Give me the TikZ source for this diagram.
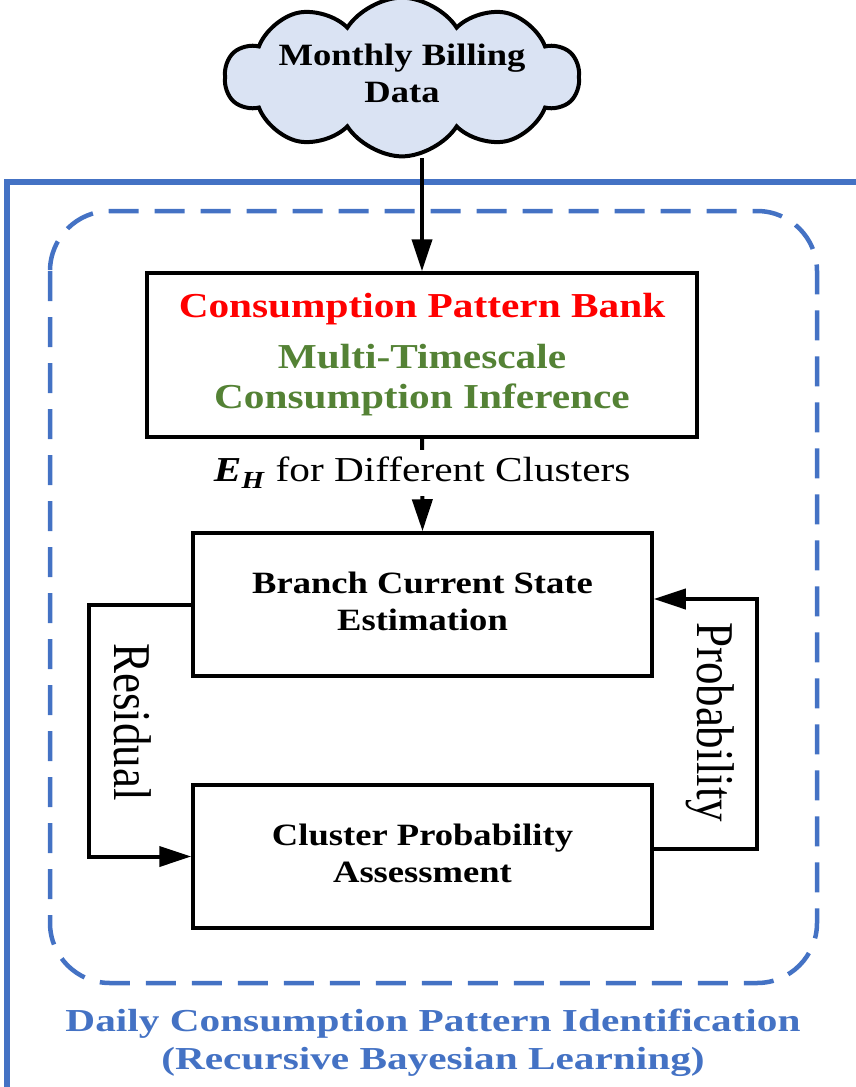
\documentclass[tikz,border=0pt]{standalone}
\usepackage{fontspec}
\setmainfont{Liberation Serif}
\usetikzlibrary{shapes.symbols,arrows.meta}

\definecolor{frameblue}{HTML}{4472C4}
\definecolor{cloudfill}{HTML}{DAE3F3}
\definecolor{bankred}{HTML}{FF0000}
\definecolor{infgreen}{HTML}{548235}

% horizontally widened text block, and its counterpart for turned labels
\newcommand{\widetext}[2][1.18]{\scalebox{#1}[1]{\begin{tabular}{@{}c@{}}#2\end{tabular}}}
\newcommand{\talltext}[1]{\scalebox{1}[1.18]{#1}}

\begin{document}
\begin{tikzpicture}[x=1pt,y=-1pt,
  block/.style={draw=black, line width=3.5pt, inner sep=0pt, fill=white},
  link/.style={line width=4pt, -{Triangle[length=32pt,width=20pt]}},
  sidelabel/.style={rotate=-90, inner sep=0pt, font=\fontsize{45}{50}\selectfont},
]
\path[use as bounding box] (0,0) rectangle (856,1087);
\clip (0,0) rectangle (856,1087);

% outer solid frame (runs past the right and bottom edges)
\draw[frameblue, line width=6pt] (7,1120) -- (7,182) -- (880,182);

% dashed rounded region
\draw[frameblue, line width=4.5pt, dash pattern=on 30pt off 16pt,
      rounded corners=60pt] (50,211) rectangle (817,983);

% data source
\node[cloud, cloud puffs=10, cloud puff arc=115, cloud ignores aspect,
      draw=black, line width=4pt, fill=cloudfill,
      minimum width=354pt, minimum height=148pt, inner sep=0pt,
      font=\fontsize{31}{37}\selectfont\bfseries] (cloud) at (402,77)
  {\widetext{Monthly Billing\\Data}};

% processing blocks
\node[block, minimum width=550pt, minimum height=164pt,
      font=\fontsize{35}{40.5}\selectfont\bfseries] (bank) at (422,355)
  {\widetext{\textcolor{bankred}{Consumption Pattern Bank}\\[10pt]
   \textcolor{infgreen}{Multi-Timescale}\\
   \textcolor{infgreen}{Consumption Inference}}};

\node[block, minimum width=459pt, minimum height=143pt,
      font=\fontsize{31}{36.5}\selectfont\bfseries] (branch) at (422.5,604.5)
  {\widetext{Branch Current State\\Estimation}};

\node[block, minimum width=459pt, minimum height=143pt,
      font=\fontsize{31}{36.5}\selectfont\bfseries] (cluster) at (422.5,856.5)
  {\widetext{Cluster Probability\\Assessment}};

% connectors
\draw[link] (cloud.south -| bank.north) -- (bank.north);

\draw[link] (bank.south) -- node[pos=0.375, fill=white, inner xsep=2pt, inner ysep=3pt,
      font=\fontsize{35}{40}\selectfont] (ehlabel)
  {\widetext{\textbf{\textit{E}}\textsubscript{\textbf{\textit{H}}} for Different Clusters}}
  (branch.north);

\draw[link] (branch.west) -- ++(-102,0) |- (cluster.west);
\draw[link] ([yshift=7.5pt]cluster.east) -- ++(103,0) |- ([yshift=5.5pt]branch.east);

\node[sidelabel] (residual) at (133,722) {\talltext{Residual}};
\node[sidelabel] (probability) at (710,722) {\talltext{Probability}};

% region caption
\node[text=frameblue, inner sep=0pt, font=\fontsize{32}{38}\selectfont\bfseries]
  (caption) at (433,1043)
  {\widetext[1.29]{Daily Consumption Pattern Identification\\(Recursive Bayesian Learning)}};
\end{tikzpicture}
\end{document}
